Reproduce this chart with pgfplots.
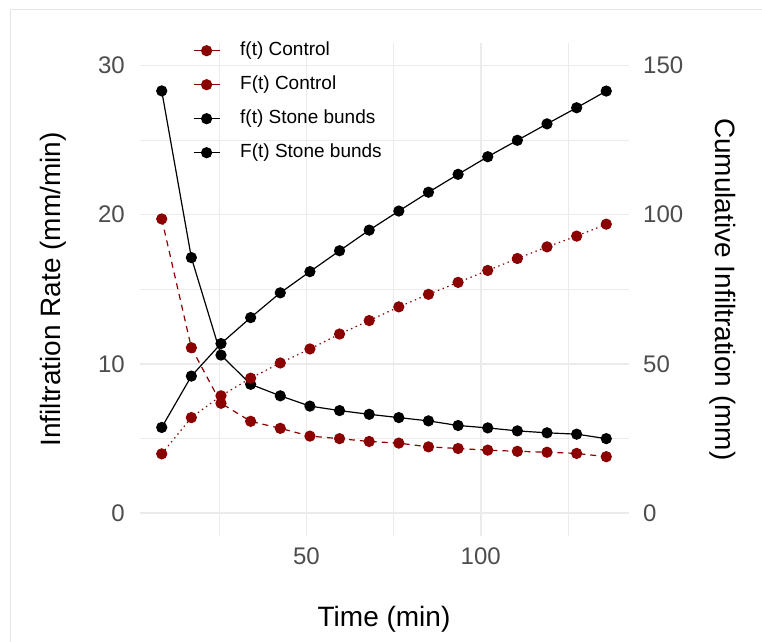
\documentclass[border=0pt]{standalone}
\usepackage{pgfplots}
\usepackage{pgfplotstable}
\pgfplotsset{compat=1.18}
\usepackage{fontspec}
\setmainfont{Liberation Sans}
\definecolor{ctrl}{HTML}{8B0000}
\definecolor{tickc}{HTML}{4D4D4D}
\definecolor{gridc}{HTML}{EBEBEB}

\pgfplotstableread{
t fC FC fS FS
8.5 19.71 19.85 28.29 28.7
17 11.08 32.0 17.12 45.9
25.5 7.36 39.3 10.59 56.8
34 6.15 45.2 8.63 65.5
42.5 5.68 50.3 7.86 73.8
51 5.16 55.0 7.17 80.9
59.5 4.99 60.0 6.87 87.9
68 4.80 64.5 6.62 94.8
76.5 4.69 69.1 6.40 101.2
85 4.44 73.3 6.18 107.5
93.5 4.33 77.3 5.87 113.5
102 4.22 81.3 5.71 119.4
110.5 4.14 85.3 5.51 124.9
119 4.08 89.2 5.38 130.4
127.5 4.00 92.8 5.29 135.8
136 3.78 96.8 4.99 141.4
}\data

\pgfplotsset{
  common/.style={
    at={(139.5bp,106.5bp)}, anchor=south west, scale only axis,
    width=489bp, height=492.5bp,
    xmin=2.125, xmax=142.375,
    axis line style={draw=none}, tick style={draw=none},
    major tick length=0pt, minor tick length=0pt,
    /pgf/number format/assume math mode=true,
    ticklabel style={font=\fontsize{24bp}{28bp}\selectfont, text=tickc, inner sep=0pt},
  },
  line/.style={line width=1.2bp},
  dots/.style={mark=*, mark size=5bp, mark options={solid, draw=none, fill=#1}},
}

\begin{document}
\begin{tikzpicture}
\useasboundingbox (0bp,0bp) rectangle (762bp,642bp);
\fill[white] (0bp,0bp) rectangle (762bp,642bp);
\draw[color=black!10, line width=1bp] (10bp,0bp) -- (10bp,632bp) -- (762bp,632bp);

\begin{axis}[common,
  ymin=-1.5, ymax=31.5,
  xtick={50,100}, minor xtick={25,75,125},
  ytick={0,10,20,30}, minor ytick={5,15,25},
  grid=both,
  major grid style={gridc, line width=1.6bp},
  minor grid style={gridc, line width=0.8bp},
  yticklabel style={anchor=east, xshift=-14.5bp},
  xticklabel style={anchor=north, yshift=-12.5bp},
  xlabel={Time (min)},
  ylabel={Infiltration Rate (mm/min)},
  every axis x label/.style={at={(axis description cs:0.5,-0.18376)}, anchor=base, font=\fontsize{28bp}{32bp}\selectfont},
  every axis y label/.style={at={(axis description cs:-0.16155,0.5)}, anchor=base, rotate=90, font=\fontsize{28bp}{32bp}\selectfont},
  legend cell align=left,
  legend image code/.code={\draw[mark repeat=2,mark phase=2,#1] plot coordinates {(0bp,0bp) (13bp,0bp) (26bp,0bp)};},
  legend style={at={(0.1094,1.0026)}, anchor=north west, draw=none, fill=none,
    inner sep=0pt, outer sep=0pt, row sep=16bp,
    font=\fontsize{19bp}{22bp}\selectfont,
    nodes={inner sep=0pt, text height=14bp, text depth=4bp},
    /tikz/every odd column/.append style={column sep=20bp}},
]
\addplot[ctrl, line, dash pattern=on 6bp off 5bp, dots=ctrl, forget plot] table[x=t, y=fC] {\data};
\addplot[black, line, dots=black, forget plot] table[x=t, y=fS] {\data};
\addlegendimage{ctrl, line, solid, dots=ctrl}
\addlegendentry{f(t) Control}
\addlegendimage{ctrl, line, solid, dots=ctrl}
\addlegendentry{F(t) Control}
\addlegendimage{black, line, solid, dots=black}
\addlegendentry{f(t) Stone bunds}
\addlegendimage{black, line, solid, dots=black}
\addlegendentry{F(t) Stone bunds}
\end{axis}

\begin{axis}[common,
  ymin=-7.5, ymax=157.5,
  hide x axis, axis y line*=right,
  ytick={0,50,100,150},
  yticklabel style={anchor=west, xshift=14.5bp},
  ylabel={Cumulative Infiltration (mm)},
  every axis y label/.style={at={(axis description cs:1.1789,0.5)}, anchor=base, rotate=-90, font=\fontsize{28bp}{32bp}\selectfont},
]
\addplot[ctrl, line, dash pattern=on 1.4bp off 3.6bp, dots=ctrl] table[x=t, y=FC] {\data};
\addplot[black, line, dots=black] table[x=t, y=FS] {\data};
\end{axis}
\end{tikzpicture}
\end{document}
